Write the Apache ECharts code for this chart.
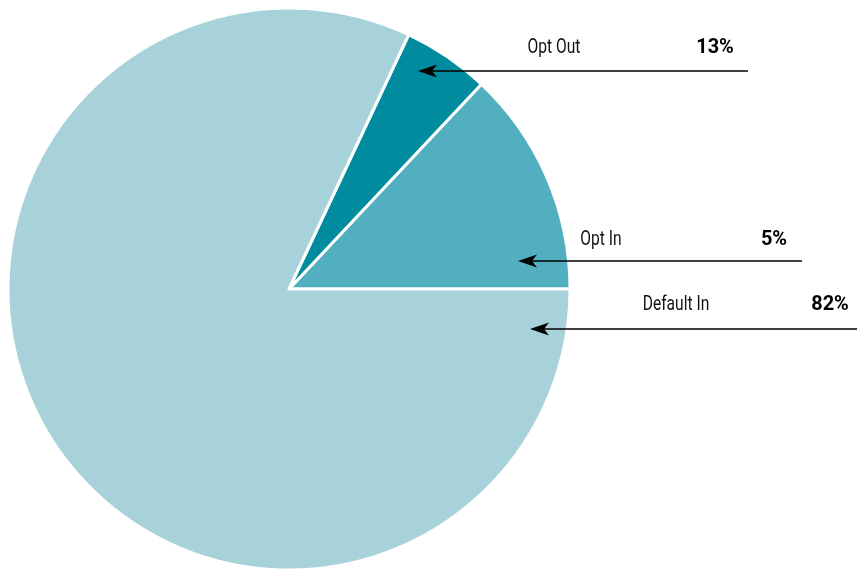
<!DOCTYPE html>
<html>
<head>
<meta charset="utf-8">
<script src="https://cdn.jsdelivr.net/npm/echarts@6/dist/echarts.min.js"></script>
<style>
  html, body { margin: 0; padding: 0; background: #fff; }
  #chart { width: 857px; height: 569px; }
</style>
</head>
<body>
<div id="chart"></div>
<script>
// slice data, counterclockwise from 3 o'clock
const sliceNames = ['Opt Out', 'Opt In', 'Default In']
const sliceValues = [13, 5, 82]
const sliceColors = ['#52afbf', '#008c9e', '#a8d2d9']

// callouts: label text + where the arrow sits
const calloutNames = ['Opt Out', 'Opt In', 'Default In']
const calloutValues = [13, 5, 82]

const chart = echarts.init(document.getElementById('chart'))
const font = "'Roboto', 'Liberation Sans', sans-serif"

// callout layout (annotation only)
const callouts = [
  { y: 71, x0: 418, x1: 748, nameX: 554, valX: 715, textY: 48 },
  { y: 261, x0: 518, x1: 802, nameX: 601, valX: 774, textY: 240 },
  { y: 329, x0: 530, x1: 857, nameX: 676, valX: 830, textY: 305 }
]

const graphics = []
callouts.forEach(function (c, i) {
  graphics.push({
    type: 'line',
    z: 100,
    shape: { x1: c.x0 + 12, y1: c.y, x2: c.x1, y2: c.y },
    style: { stroke: '#000', lineWidth: 1.6 }
  })
  graphics.push({
    type: 'polygon',
    z: 100,
    shape: { points: [[c.x0, c.y], [c.x0 + 19, c.y - 6.5], [c.x0 + 14, c.y], [c.x0 + 19, c.y + 6.5]] },
    style: { fill: '#000' }
  })
  graphics.push({
    type: 'text',
    z: 100,
    x: c.nameX,
    y: c.textY,
    scaleX: 0.78,
    style: {
      text: calloutNames[i],
      font: '20px ' + font,
      fill: '#111',
      textAlign: 'center',
      textVerticalAlign: 'middle'
    }
  })
  graphics.push({
    type: 'text',
    z: 100,
    x: c.valX,
    y: c.textY,
    scaleX: 0.95,
    style: {
      text: calloutValues[i] + '%',
      font: 'bold 21px ' + font,
      fill: '#000',
      textAlign: 'center',
      textVerticalAlign: 'middle'
    }
  })
})

const option = {
  animation: false,
  backgroundColor: '#fff',
  series: [{
    type: 'pie',
    center: [289, 289],
    radius: [0, 281],
    startAngle: 0,
    clockwise: false,
    label: { show: false },
    labelLine: { show: false },
    itemStyle: { borderColor: '#fff', borderWidth: 3 },
    data: sliceNames.map(function (n, i) {
      return { name: n, value: sliceValues[i], itemStyle: { color: sliceColors[i] } }
    })
  }],
  graphic: graphics
}

chart.setOption(option)
</script>
</body>
</html>
